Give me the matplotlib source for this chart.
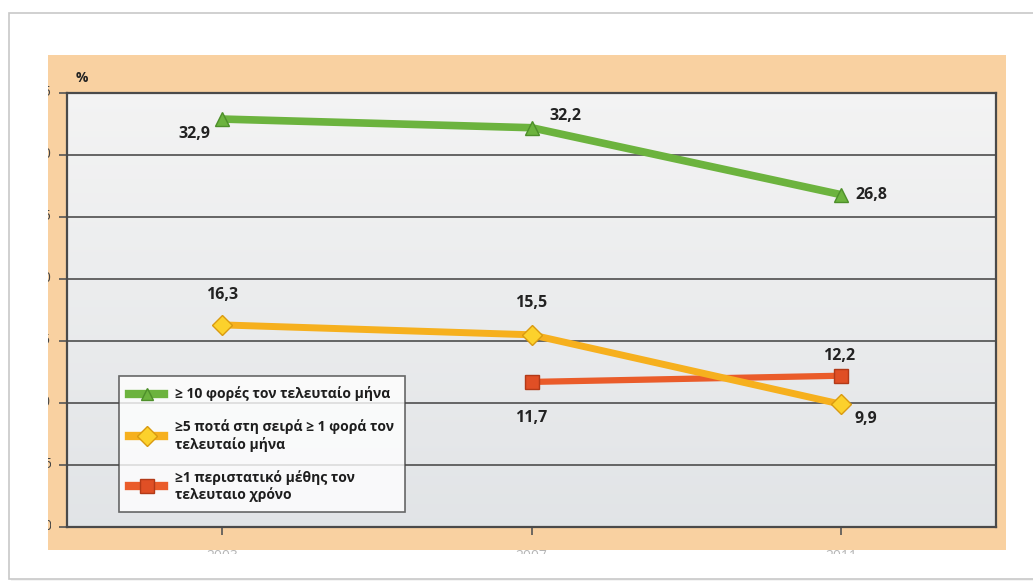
import numpy as np
import matplotlib.pyplot as plt
from matplotlib.patches import Rectangle
from matplotlib.lines import Line2D
from matplotlib.transforms import Bbox

plt.rcParams['font.family'] = ['Open Sans', 'DejaVu Sans']

# Έτη έρευνας και ποσοστά ανά δείκτη
years = ['2003', '2007', '2011']
y_ticks = [0, 5, 10, 15, 20, 25, 30, 35]
often = [32.9, 32.2, 26.8]          # >= 10 φορές τον τελευταίο μήνα
binge = [16.3, 15.5, 9.9]           # >= 5 ποτά στη σειρά
drunk = [np.nan, 11.7, 12.2]        # >= 1 περιστατικό μέθης

series_names = [
    '≥ 10 φορές τον τελευταίο μήνα',
    '≥5 ποτά στη σειρά ≥ 1 φορά τον\nτελευταίο μήνα',
    '≥1 περιστατικό μέθης τον\nτελευταιο χρόνο',
]

W, H = 1033, 584
fig = plt.figure(figsize=(W / 100, H / 100), dpi=100)
fig.patch.set_facecolor('white')

# εξωτερικό πλαίσιο και πορτοκαλί φόντο
fig.patches.append(Rectangle((11 / W, 3 / H), 1.2, (H - 16) / H, transform=fig.transFigure,
                             facecolor='#f4f4f4', edgecolor='none', zorder=0))
fig.patches.append(Rectangle((9 / W, 5 / H), 1.2, (H - 18) / H, transform=fig.transFigure,
                             facecolor='white', edgecolor='#c8c8c8', lw=1.2, zorder=0))
fig.patches.append(Rectangle((48 / W, (H - 550) / H), (1006 - 48) / W, (550 - 55) / H,
                             transform=fig.transFigure, facecolor='#f9d1a1',
                             edgecolor='none', zorder=1))

ax = fig.add_axes([67 / W, (H - 527) / H, (996 - 67) / W, (527 - 93) / H])
ax.set_zorder(2)

x = np.arange(len(years))
ax.set_xlim(-0.5, len(years) - 0.5)

# απαλή διαβάθμιση στην περιοχή του γραφήματος (ανοιχτό πάνω)
grad = np.linspace(0, 1, 256).reshape(-1, 1)
top = np.array([0.955, 0.955, 0.955])
bot = np.array([0.885, 0.895, 0.905])
img = top + (bot - top) * grad[..., None]
ax.imshow(img, extent=(-0.5, len(years) - 0.5, 0, 35), aspect='auto', zorder=0)
ax.set_ylim(0, 35)

for v in y_ticks[1:-1]:
    ax.axhline(v, color='#5a5a5a', lw=1.3, zorder=1)

ax.plot(x, often, color='#6cb33e', lw=5.5, marker='^', ms=10,
        mfc='#6cb33e', mec='#4d8f2a', mew=1, zorder=5, solid_capstyle='butt')
ax.plot(x, binge, color='#f6b01e', lw=5, marker='D', ms=10,
        mfc='#fcd12c', mec='#d99a10', mew=1, zorder=4, solid_capstyle='butt')
ax.plot(x, drunk, color='#ea5c2a', lw=4.5, marker='s', ms=10,
        mfc='#e04f25', mec='#b23a18', mew=1, zorder=3, solid_capstyle='butt')

# ετικέτες τιμών με δεκαδική υποδιαστολή
def lbl(i, v, dx, dy, ha='center'):
    ax.annotate(f'{v:.1f}'.replace('.', ','), (x[i], v), xytext=(dx, dy),
                textcoords='offset pixels', ha=ha, va='center',
                fontsize=11.5, fontweight='bold', color='#222222', zorder=6)

lbl(0, often[0], -12, -15, 'right')
lbl(1, often[1], 34, 12)
lbl(2, often[2], 14, 0, 'left')
lbl(0, binge[0], 0, 30)
lbl(1, binge[1], 0, 32)
lbl(2, binge[2], 13, -15, 'left')
lbl(1, drunk[1], 0, -36)
lbl(2, drunk[2], -2, 20)

for s in ax.spines.values():
    s.set_color('#4a4a4a')
    s.set_linewidth(1.6)
ax.set_xticks(x)
ax.set_xticklabels([])
ax.set_yticks(y_ticks)
ax.set_yticklabels([])
ax.tick_params(axis='both', direction='out', length=6, width=1.2, color='#555555')

fig.text(76 / W, (H - 78) / H, '%', fontsize=10, fontweight='bold', color='#222222',
         va='center', ha='left', zorder=3)

# κομμένες ετικέτες αξόνων στις άκρες
clip_y = Bbox.from_extents(47.5, 0, 51, H)
for v in y_ticks:
    yp = ax.transData.transform((0, v))[1]
    t = fig.text(51 / W, yp / H, str(v), fontsize=10, color='#444444',
                 ha='right', va='center', zorder=3)
    t.set_clip_box(clip_y)
clip_x = Bbox.from_extents(0, H - 554, W, H - 550)
for i, yr in enumerate(years):
    xp = ax.transData.transform((x[i], 0))[0]
    t = fig.text(xp / W, (H - 549) / H, yr, fontsize=10, color='#b5b5b5',
                 ha='center', va='top', zorder=3)
    t.set_clip_box(clip_x)

handles = [
    Line2D([], [], color='#6cb33e', lw=6, marker='^', ms=9, mfc='#6cb33e', mec='#4d8f2a'),
    Line2D([], [], color='#f6b01e', lw=6, marker='D', ms=10, mfc='#fcd12c', mec='#d99a10'),
    Line2D([], [], color='#ea5c2a', lw=6, marker='s', ms=10, mfc='#e04f25', mec='#b23a18'),
]
leg = ax.legend(handles, series_names, loc='upper left', bbox_to_anchor=(0.056, 0.348),
                borderaxespad=0, frameon=True, fancybox=False, shadow=False,
                prop={'size': 10, 'weight': 'bold'}, handlelength=2.5,
                handletextpad=0.8, labelspacing=1.3, borderpad=0.75,
                labelcolor='#1e1e1e')
leg.get_frame().set_edgecolor('#444444')
leg.get_frame().set_linewidth(1.2)
leg.set_zorder(7)

fig.savefig('out.png', dpi=100)
